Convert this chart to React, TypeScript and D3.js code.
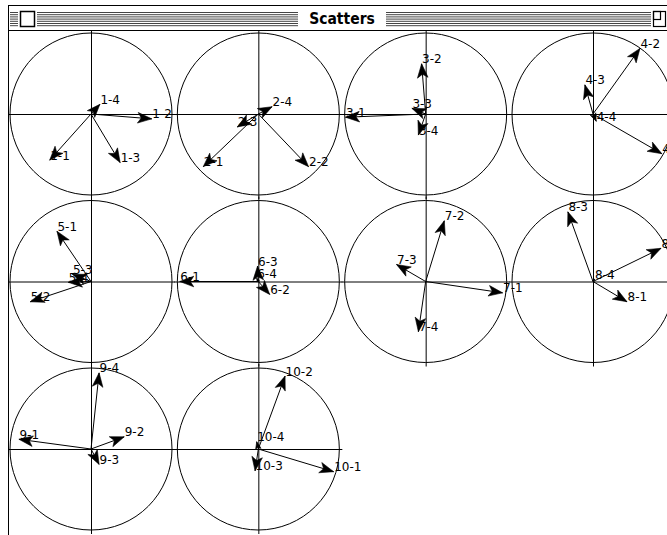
import { useEffect, useRef } from 'react'
import * as d3 from 'd3'

const W = 667
const H = 535

// one small scatter per factor pair, 4 loadings each
const plotIds = [1, 2, 3, 4, 5, 6, 7, 8, 9, 10]
const varIds = [1, 2, 3, 4]

const loadX = [
	[-0.51, 0.75, 0.36, 0.11],
	[-0.68, 0.62, -0.26, 0.17],
	[-0.99, -0.05, -0.17, -0.09],
	[0.85, 0.58, -0.10, 0.04],
	[-0.42, -0.75, -0.23, -0.28],
	[-0.97, 0.14, -0.01, -0.02],
	[0.95, 0.23, -0.36, -0.09],
	[0.42, 0.84, -0.31, 0.02],
	[-0.89, 0.41, 0.10, 0.10],
	[0.93, 0.33, -0.04, -0.02],
]

const loadY = [
	[-0.57, -0.06, -0.60, 0.12],
	[-0.65, -0.65, -0.16, 0.09],
	[-0.04, 0.62, 0.07, -0.26],
	[-0.49, 0.81, 0.36, -0.09],
	[0.62, -0.25, 0.09, -0.01],
	[0.00, -0.16, 0.19, 0.04],
	[-0.14, 0.75, 0.21, -0.62],
	[-0.25, 0.41, 0.86, 0.03],
	[0.12, 0.15, -0.19, 0.94],
	[-0.28, 0.90, -0.27, 0.09],
]

const title = 'Scatters'

function App() {
	const ref = useRef<SVGSVGElement>(null)

	useEffect(() => {
		const svg = d3.select(ref.current)
		svg.selectAll('*').remove()

		const nCols = 4
		const r = 81
		const colScale = d3.scaleLinear().domain([0, 3]).range([91, 593])
		const rowScale = d3.scaleLinear().domain([0, 2]).range([114, 449])
		const x = d3.scaleLinear().domain([-1, 1]).range([-r, r])
		const y = d3.scaleLinear().domain([-1, 1]).range([r, -r])

		svg.append('rect').attr('width', W).attr('height', H).attr('fill', '#fff')

		svg.append('defs').append('clipPath').attr('id', 'content')
			.append('rect').attr('x', 9).attr('y', 31).attr('width', W - 9).attr('height', H - 31)

		const body = svg.append('g').attr('clip-path', 'url(#content)')

		plotIds.forEach((id, i) => {
			const g = body.append('g')
				.attr('transform', `translate(${colScale(i % nCols)}, ${rowScale(Math.floor(i / nCols))})`)

			g.append('circle').attr('r', r).attr('fill', 'none').attr('stroke', '#000')
			g.append('line').attr('x1', x(-1) - 3).attr('x2', x(1) + 3).attr('y1', 0.5).attr('y2', 0.5).attr('stroke', '#000')
			g.append('line').attr('y1', y(-1) + 4).attr('y2', y(1) - 4).attr('x1', 0.5).attr('x2', 0.5).attr('stroke', '#000')

			const pts = varIds.map((v, j) => ({ v, tx: x(loadX[i][j]), ty: y(loadY[i][j]) }))

			// lines + labels first, heads on top (they hide part of the label like the original)
			pts.forEach(p => {
				g.append('line')
					.attr('x1', 0).attr('y1', 0).attr('x2', p.tx).attr('y2', p.ty)
					.attr('stroke', '#000').attr('stroke-width', 1)
				g.append('text')
					.attr('x', p.tx + 0.5)
					.attr('y', p.ty - 0.5)
					.attr('font-family', 'DejaVu Sans, sans-serif')
					.attr('font-size', '12px')
					.attr('fill', '#000')
					.text(`${id}-${p.v}`)
			})

			pts.forEach(p => {
				const len = Math.hypot(p.tx, p.ty)
				const a = Math.atan2(p.ty, p.tx)
				const L = Math.min(14, len)
				const hw = L * 0.38
				const ca = Math.cos(a), sa = Math.sin(a)
				const pt = (back: number, side: number) =>
					[p.tx - back * ca - side * sa, p.ty - back * sa + side * ca]
				g.append('path')
					.attr('d', d3.line()([pt(0, 0), pt(L, hw), pt(L * 0.75, 0), pt(L, -hw)] as [number, number][]) + 'Z')
					.attr('fill', '#000')
					.attr('stroke', '#000')
					.attr('stroke-width', 0.6)
			})
		})

		// window chrome
		const chrome = svg.append('g')
		chrome.append('rect').attr('x', 8).attr('y', 5).attr('width', W).attr('height', 25).attr('fill', '#fff')
		const stripeYs = d3.range(7).map(k => 12.5 + k * 2.2)
		const stripeRuns = [[10, 18], [37, 298], [386, 651]]
		stripeRuns.forEach(([a, b]) => {
			stripeYs.forEach(sy => {
				chrome.append('line').attr('x1', a).attr('x2', b).attr('y1', sy).attr('y2', sy)
					.attr('stroke', '#444').attr('stroke-width', 1)
			})
		})
		chrome.append('rect').attr('x', 20.5).attr('y', 11.5).attr('width', 14).attr('height', 15)
			.attr('fill', '#fff').attr('stroke', '#000').attr('stroke-width', 1.5)
		chrome.append('rect').attr('x', 653.5).attr('y', 11.5).attr('width', 12).attr('height', 15)
			.attr('fill', '#fff').attr('stroke', '#000').attr('stroke-width', 1.2)
		chrome.append('rect').attr('x', 653.5).attr('y', 11.5).attr('width', 7).attr('height', 8)
			.attr('fill', 'none').attr('stroke', '#000').attr('stroke-width', 1.2)
		chrome.append('text')
			.attr('x', 342).attr('y', 23.5)
			.attr('text-anchor', 'middle')
			.attr('font-family', 'DejaVu Sans Condensed, DejaVu Sans, sans-serif')
			.attr('font-weight', 'bold')
			.attr('font-size', '15.5px')
			.attr('fill', '#000')
			.text(title)

		chrome.append('line').attr('x1', 8).attr('x2', W).attr('y1', 5.5).attr('y2', 5.5).attr('stroke', '#000')
		chrome.append('line').attr('x1', 8).attr('x2', W).attr('y1', 30.5).attr('y2', 30.5).attr('stroke', '#000')
		chrome.append('line').attr('x1', 8.5).attr('x2', 8.5).attr('y1', 5).attr('y2', H).attr('stroke', '#000')
	}, [])

	return (
		<svg ref={ref} width={W} height={H} style={{ position: 'absolute', left: 0, top: 0 }} />
	)
}

export default App
